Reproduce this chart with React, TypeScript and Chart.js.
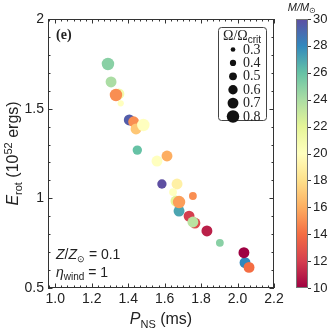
import React, { useEffect, useRef } from "react";
import { Chart, registerables } from "chart.js";

Chart.register(...registerables);

// ---- data ----
const periodMs = [1.289, 1.306, 1.349, 1.333, 1.359, 1.406, 1.430, 1.443, 1.483, 1.450, 1.558, 1.613, 1.585, 1.668, 1.646, 1.755, 1.679, 1.662, 1.679, 1.766, 1.734, 1.755, 1.832, 1.903, 2.041, 2.035, 2.063];
const energyE52 = [1.749, 1.649, 1.582, 1.576, 1.530, 1.437, 1.427, 1.387, 1.409, 1.269, 1.208, 1.236, 1.080, 1.080, 1.035, 1.013, 0.929, 0.985, 0.979, 0.862, 0.901, 0.868, 0.818, 0.752, 0.641, 0.697, 0.615];
const massMsun = [25, 24, 21, 15, 20, 29.5, 15, 17, 20, 26, 20, 16, 30, 19, 20, 15, 27, 22, 15.5, 12.5, 12, 23.5, 11, 25, 28, 10, 14];
const omegaCrit = [0.8, 0.7, 0.7, 0.8, 0.4, 0.7, 0.7, 0.7, 0.8, 0.6, 0.7, 0.7, 0.6, 0.7, 0.5, 0.5, 0.7, 0.7, 0.8, 0.7, 0.7, 0.7, 0.7, 0.5, 0.7, 0.7, 0.7];

const xTickValues = [1.0, 1.2, 1.4, 1.6, 1.8, 2.0, 2.2];
const yTickValues = [0.5, 1, 1.5, 2];
const colorbarTicks = [10, 12, 14, 16, 18, 20, 22, 24, 26, 28, 30];
const legendOmegas = [0.3, 0.4, 0.5, 0.6, 0.7, 0.8];

const X_MIN = 0.96, X_MAX = 2.2, Y_MIN = 0.5, Y_MAX = 2;
const M_MIN = 10, M_MAX = 30;

const SPECTRAL = ["#9e0142", "#d53e4f", "#f46d43", "#fdae61", "#fee08b", "#ffffbf", "#e6f598", "#abdda4", "#66c2a5", "#3288bd", "#5e4fa2"];

function hexToRgb(h: string) {
  const n = parseInt(h.slice(1), 16);
  return [(n >> 16) & 255, (n >> 8) & 255, n & 255];
}
function spectral(t: number) {
  t = Math.max(0, Math.min(1, t));
  const p = t * (SPECTRAL.length - 1);
  const i = Math.min(Math.floor(p), SPECTRAL.length - 2);
  const f = p - i;
  const a = hexToRgb(SPECTRAL[i]);
  const b = hexToRgb(SPECTRAL[i + 1]);
  const c = a.map((v, k) => Math.round(v + (b[k] - v) * f));
  return `rgb(${c[0]},${c[1]},${c[2]})`;
}
const massColor = (m: number) => spectral((m - M_MIN) / (M_MAX - M_MIN));
const omegaRadius = (w: number) => 7.8 * w;

const SANS = "'Liberation Sans', Arial, sans-serif";
const SERIF = "'Liberation Serif', 'Times New Roman', serif";
const INK = "#222";

type Part = { t: string; font: string; dy?: number };
function richWidth(ctx: CanvasRenderingContext2D, parts: Part[]) {
  let w = 0;
  for (const p of parts) {
    ctx.font = p.font;
    w += ctx.measureText(p.t).width;
  }
  return w;
}
function drawRich(ctx: CanvasRenderingContext2D, parts: Part[], x: number, y: number, align: "left" | "center") {
  let cx = align === "center" ? x - richWidth(ctx, parts) / 2 : x;
  ctx.textAlign = "left";
  ctx.textBaseline = "alphabetic";
  for (const p of parts) {
    ctx.font = p.font;
    ctx.fillText(p.t, cx, y + (p.dy || 0));
    cx += ctx.measureText(p.t).width;
  }
}

const decorPlugin = {
  id: "decor",
  afterDraw(chart: any) {
    const ctx: CanvasRenderingContext2D = chart.ctx;
    const a = chart.chartArea;
    const xs = chart.scales.x;
    const ys = chart.scales.y;
    ctx.save();
    ctx.strokeStyle = "#333";
    ctx.lineWidth = 1;
    // frame
    ctx.strokeRect(Math.round(a.left) + 0.5, Math.round(a.top) + 0.5, Math.round(a.right - a.left) - 1, Math.round(a.bottom - a.top) - 1);
    // ticks (inward, all four sides)
    ctx.beginPath();
    const xMinor: number[] = [];
    for (let k = -2; k <= 40; k++) {
      const v = 1.0 + (k * 0.2) / 6;
      if (v > X_MIN && v < X_MAX) xMinor.push(v);
    }
    const tickX = (v: number, len: number) => {
      const px = Math.round(xs.getPixelForValue(v)) + 0.5;
      ctx.moveTo(px, a.bottom);
      ctx.lineTo(px, a.bottom - len);
      ctx.moveTo(px, a.top);
      ctx.lineTo(px, a.top + len);
    };
    xMinor.forEach((v) => tickX(v, 2.5));
    xTickValues.forEach((v) => tickX(v, 4.5));
    const tickY = (v: number, len: number) => {
      const py = Math.round(ys.getPixelForValue(v)) + 0.5;
      ctx.moveTo(a.left, py);
      ctx.lineTo(a.left + len, py);
      ctx.moveTo(a.right, py);
      ctx.lineTo(a.right - len, py);
    };
    for (let v = 0.6; v < 2; v += 0.1) tickY(v, 2.5);
    yTickValues.forEach((v) => tickY(v, 4.5));
    ctx.stroke();

    ctx.fillStyle = INK;
    // axis titles
    drawRich(ctx, [
      { t: "P", font: `italic 16px ${SANS}` },
      { t: "NS", font: `11px ${SANS}`, dy: 4 },
      { t: " (ms)", font: `16px ${SANS}` },
    ], (a.left + a.right) / 2, 324, "center");
    ctx.save();
    ctx.translate(18, (a.top + a.bottom) / 2);
    ctx.rotate(-Math.PI / 2);
    drawRich(ctx, [
      { t: "E", font: `italic 16px ${SANS}` },
      { t: "rot", font: `11px ${SANS}`, dy: 4 },
      { t: " (10", font: `16px ${SANS}` },
      { t: "52", font: `11px ${SANS}`, dy: -6 },
      { t: " ergs)", font: `16px ${SANS}` },
    ], 0, 0, "center");
    ctx.restore();

    // panel tag
    ctx.font = `bold 14px ${SERIF}`;
    ctx.textAlign = "left";
    ctx.textBaseline = "alphabetic";
    ctx.fillText("(e)", 56, 39);

    // annotation
    drawRich(ctx, [
      { t: "Z", font: `italic 14px ${SANS}` },
      { t: "/", font: `14px ${SANS}` },
      { t: "Z", font: `italic 14px ${SANS}` },
      { t: "⊙", font: `9px ${SANS}`, dy: 3 },
      { t: " = 0.1", font: `14px ${SANS}` },
    ], 56, 259, "left");
    drawRich(ctx, [
      { t: "η", font: `italic 14px ${SANS}` },
      { t: "wind", font: `10px ${SANS}`, dy: 3 },
      { t: " = 1", font: `14px ${SANS}` },
    ], 56, 277, "left");

    // size legend
    const bx = 218.5, by = 27.5, bw = 48, bh = 93;
    ctx.beginPath();
    (ctx as any).roundRect(bx, by, bw, bh, 3);
    ctx.fillStyle = "#fff";
    ctx.fill();
    ctx.strokeStyle = "#444";
    ctx.stroke();
    ctx.fillStyle = INK;
    drawRich(ctx, [
      { t: "Ω/Ω", font: `14px ${SERIF}` },
      { t: "crit", font: `10px ${SANS}`, dy: 3 },
    ], 223, 40, "left");
    legendOmegas.forEach((w, i) => {
      const cy = 49.5 + i * 13.4;
      ctx.fillStyle = "#111";
      ctx.beginPath();
      ctx.arc(233, cy, omegaRadius(w), 0, Math.PI * 2);
      ctx.fill();
      ctx.fillStyle = INK;
      ctx.font = `14px ${SERIF}`;
      ctx.textAlign = "left";
      ctx.textBaseline = "middle";
      ctx.fillText(w.toFixed(1), 243, cy + 0.5);
    });

    // colorbar
    const cx0 = 296, cw = 12, ct = a.top, cb = a.bottom;
    const grad = ctx.createLinearGradient(0, cb, 0, ct);
    for (let i = 0; i <= 40; i++) grad.addColorStop(i / 40, spectral(i / 40));
    ctx.fillStyle = grad;
    ctx.fillRect(cx0, ct, cw, cb - ct);
    ctx.strokeStyle = "#777";
    ctx.strokeRect(cx0 + 0.5, ct + 0.5, cw - 1, cb - ct - 1);
    ctx.strokeStyle = "#333";
    ctx.beginPath();
    ctx.fillStyle = INK;
    ctx.font = `13px ${SANS}`;
    ctx.textAlign = "left";
    ctx.textBaseline = "middle";
    colorbarTicks.forEach((m) => {
      const py = cb - ((m - M_MIN) / (M_MAX - M_MIN)) * (cb - ct);
      ctx.moveTo(cx0 + cw, Math.round(py) + 0.5);
      ctx.lineTo(cx0 + cw + 3, Math.round(py) + 0.5);
      ctx.fillText(String(m), cx0 + cw + 5, py);
    });
    ctx.stroke();
    drawRich(ctx, [
      { t: "M", font: `italic 11px ${SANS}` },
      { t: "/", font: `italic 11px ${SANS}` },
      { t: "M", font: `italic 11px ${SANS}` },
      { t: "⊙", font: `8px ${SANS}`, dy: 2 },
    ], 302, 11, "center");
    ctx.restore();
  },
};

export default function App() {
  const ref = useRef<HTMLCanvasElement | null>(null);
  useEffect(() => {
    if (!ref.current) return;
    const points = periodMs.map((p, i) => ({ x: p, y: energyE52[i] }));
    const chart = new Chart(ref.current, {
      type: "scatter",
      data: {
        datasets: [
          {
            data: points,
            pointRadius: omegaCrit.map(omegaRadius),
            pointHoverRadius: omegaCrit.map(omegaRadius),
            pointBackgroundColor: massMsun.map(massColor),
            pointBorderWidth: 0,
            pointBorderColor: "rgba(0,0,0,0)",
          },
        ],
      },
      options: {
        animation: false,
        responsive: false,
        devicePixelRatio: 1,
        events: [],
        layout: { padding: { top: 19, right: 58, left: 0, bottom: 0 } },
        plugins: { legend: { display: false }, tooltip: { enabled: false } },
        scales: {
          x: {
            type: "linear",
            min: X_MIN,
            max: X_MAX,
            afterBuildTicks: (s: any) => {
              s.ticks = xTickValues.map((v) => ({ value: v }));
            },
            afterFit: (s: any) => {
              s.height = 44;
            },
            grid: { display: false, drawTicks: false },
            border: { display: false },
            ticks: {
              callback: (v: any) => Number(v).toFixed(1),
              font: { family: SANS, size: 14 },
              color: INK,
              padding: 3,
              maxRotation: 0,
              autoSkip: false,
            },
          },
          y: {
            type: "linear",
            min: Y_MIN,
            max: Y_MAX,
            afterBuildTicks: (s: any) => {
              s.ticks = yTickValues.map((v) => ({ value: v }));
            },
            afterFit: (s: any) => {
              s.width = 48;
            },
            grid: { display: false, drawTicks: false },
            border: { display: false },
            ticks: {
              callback: (v: any) => String(v),
              font: { family: SANS, size: 14 },
              color: INK,
              padding: 4,
              autoSkip: false,
            },
          },
        },
      },
      plugins: [decorPlugin],
    });
    return () => chart.destroy();
  }, []);
  return (
    <div style={{ position: "fixed", left: 0, top: 0, width: 332, height: 332, background: "#fff" }}>
      <canvas ref={ref} width={332} height={332} style={{ display: "block" }} />
    </div>
  );
}
